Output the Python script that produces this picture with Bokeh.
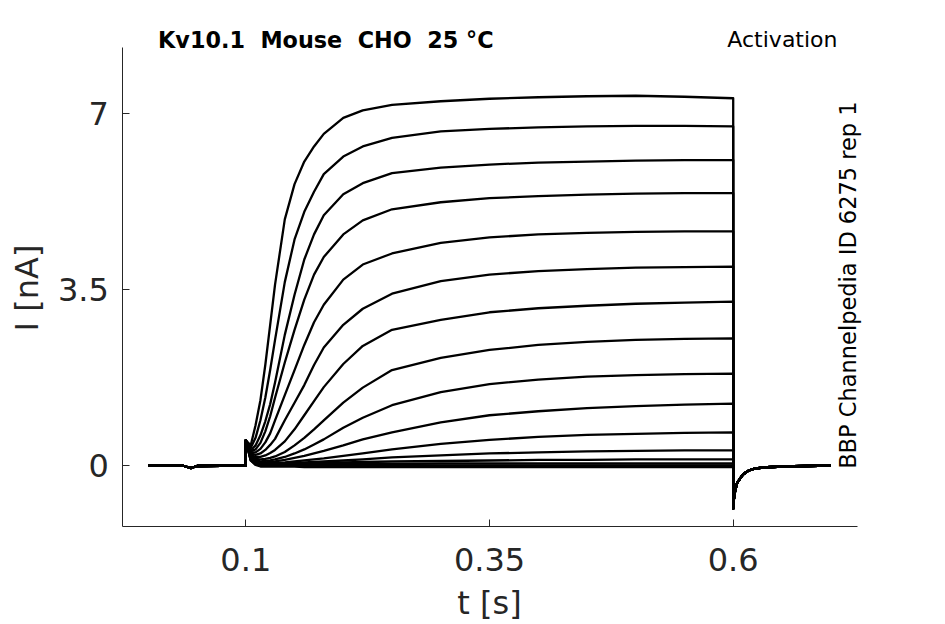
import math
from bokeh.plotting import figure
from bokeh.models import Range1d, FixedTicker, Label
from bokeh.embed import file_html
from bokeh.resources import INLINE

# ---------------- data ----------------
# holding period before the step (s, nA)
PRE_T = [0.0, 0.035, 0.04, 0.044, 0.05, 0.1]
PRE_I = [0.0, 0.0, -0.03, -0.05, -0.01, 0.0]

# test pulse sample times (s)
STEP_T = [0.1, 0.105, 0.11, 0.115, 0.12, 0.125, 0.13, 0.14, 0.15, 0.16, 0.17,
          0.18, 0.2, 0.22, 0.25, 0.3, 0.35, 0.4, 0.45, 0.5, 0.55, 0.6]

# currents during the test pulse (nA), one list per voltage step
I1 = [0.5, 0.4, 0.8, 1.3, 2.0, 2.8, 3.6, 4.9, 5.6, 6.05, 6.35, 6.6, 6.92, 7.07, 7.18, 7.25, 7.3, 7.33, 7.35, 7.36, 7.34, 7.31]
I2 = [0.5, 0.35, 0.55, 0.9, 1.35, 1.9, 2.5, 3.65, 4.5, 5.05, 5.45, 5.8, 6.15, 6.35, 6.52, 6.65, 6.7, 6.73, 6.75, 6.76, 6.76, 6.75]
I3 = [0.5, 0.3, 0.4, 0.6, 0.88, 1.22, 1.65, 2.6, 3.4, 4.1, 4.6, 4.98, 5.4, 5.62, 5.82, 5.93, 5.99, 6.03, 6.05, 6.07, 6.08, 6.08]
I4 = [0.5, 0.28, 0.32, 0.45, 0.68, 0.98, 1.35, 2.05, 2.7, 3.3, 3.8, 4.15, 4.6, 4.88, 5.1, 5.24, 5.32, 5.36, 5.39, 5.41, 5.42, 5.42]
I5 = [0.5, 0.26, 0.26, 0.33, 0.46, 0.64, 0.9, 1.4, 1.9, 2.4, 2.85, 3.2, 3.7, 4.0, 4.22, 4.43, 4.54, 4.6, 4.63, 4.65, 4.66, 4.66]
I6 = [0.5, 0.24, 0.21, 0.24, 0.31, 0.41, 0.53, 0.9, 1.25, 1.6, 2.0, 2.35, 2.8, 3.12, 3.42, 3.67, 3.8, 3.87, 3.91, 3.94, 3.95, 3.96]
I7 = [0.5, 0.22, 0.17, 0.17, 0.2, 0.25, 0.31, 0.48, 0.72, 1.0, 1.28, 1.56, 2.02, 2.38, 2.7, 2.9, 3.05, 3.13, 3.18, 3.22, 3.24, 3.26]
I8 = [0.5, 0.2, 0.13, 0.12, 0.13, 0.15, 0.18, 0.27, 0.4, 0.55, 0.72, 0.9, 1.25, 1.55, 1.9, 2.14, 2.3, 2.4, 2.46, 2.5, 2.52, 2.53]
I9 = [0.5, 0.18, 0.1, 0.08, 0.09, 0.1, 0.12, 0.17, 0.24, 0.32, 0.42, 0.52, 0.75, 0.95, 1.2, 1.46, 1.62, 1.71, 1.77, 1.8, 1.82, 1.83]
I10 = [0.5, 0.17, 0.08, 0.06, 0.06, 0.07, 0.08, 0.11, 0.15, 0.19, 0.24, 0.29, 0.4, 0.52, 0.66, 0.86, 1.0, 1.08, 1.14, 1.18, 1.21, 1.23]
I11 = [0.5, 0.15, 0.06, 0.04, 0.04, 0.04, 0.05, 0.06, 0.08, 0.1, 0.12, 0.14, 0.19, 0.24, 0.32, 0.43, 0.51, 0.57, 0.61, 0.63, 0.65, 0.66]
I12 = [0.5, 0.14, 0.05, 0.03, 0.03, 0.03, 0.03, 0.04, 0.05, 0.06, 0.07, 0.08, 0.1, 0.12, 0.16, 0.2, 0.24, 0.26, 0.28, 0.29, 0.3, 0.3]
I13 = [0.5, 0.13, 0.04, 0.02, 0.02, 0.02, 0.02, 0.03, 0.03, 0.04, 0.04, 0.05, 0.06, 0.07, 0.08, 0.09, 0.1, 0.11, 0.11, 0.12, 0.12, 0.12]
I14 = [0.5, 0.12, 0.03, 0.01, 0.01, 0.01, 0.01, 0.01, 0.02, 0.02, 0.02, 0.02, 0.03, 0.03, 0.03, 0.04, 0.04, 0.04, 0.04, 0.04, 0.04, 0.04]
I15 = [0.5, 0.1, 0.02, 0.0, 0.0, 0.0, 0.0, 0.0, 0.0, 0.0, 0.0, 0.0, 0.0, 0.0, 0.0, 0.0, 0.0, 0.0, 0.0, 0.0, 0.0, 0.0]
I16 = [0.5, 0.1, 0.01, -0.02, -0.02, -0.02, -0.02, -0.02, -0.02, -0.03, -0.03, -0.03, -0.03, -0.03, -0.03, -0.03, -0.03, -0.03, -0.03, -0.03, -0.03, -0.03]

# tail current after the pulse
TAIL_T = [0.6, 0.6005, 0.602, 0.604, 0.607, 0.61, 0.615, 0.62, 0.63, 0.65, 0.7]
TAIL_I = [-0.86, -0.7, -0.5, -0.35, -0.26, -0.18, -0.11, -0.07, -0.04, -0.02, 0.0]

X_TICKS = [0.1, 0.35, 0.6]
X_TICK_LABELS = ["0.1", "0.35", "0.6"]
Y_TICKS = [0, 3.5, 7]
Y_TICK_LABELS = ["0", "3.5", "7"]

TITLE = "Kv10.1\u00a0 Mouse\u00a0 CHO\u00a0 25 °C"
PROTOCOL = "Activation"
SOURCE = "BBP Channelpedia ID 6275 rep 1"
X_LABEL = "t [s]"
Y_LABEL = "I [nA]"

TRACES = [I1, I2, I3, I4, I5, I6, I7, I8, I9, I10, I11, I12, I13, I14, I15, I16]

# ---------------- figure ----------------
FONT = "DejaVu Sans"
INK = "#262626"

# axes box of the reference (data units)
X_LIM = (-0.0262, 0.7272)
Y_LIM = (-1.214, 8.326)

# the frame covers the whole canvas so that texts around the axes box are not clipped
p = figure(
    width=944, height=623,
    min_border_left=0, min_border_right=0, min_border_top=0, min_border_bottom=0,
    x_range=Range1d(-0.15164, 0.81676), y_range=Range1d(-3.1449, 9.2556),
    output_backend="svg", toolbar_location=None, title_location=None,
    background_fill_color="white", border_fill_color="white",
)
p.outline_line_color = None
p.xgrid.visible = False
p.ygrid.visible = False

xs = [PRE_T + STEP_T + TAIL_T for _ in TRACES]
ys = [PRE_I + tr + TAIL_I for tr in TRACES]
p.multi_line(xs, ys, line_color="black", line_width=2.3, line_join="round")

p.xaxis.fixed_location = Y_LIM[0]
p.xaxis.bounds = X_LIM
p.yaxis.fixed_location = X_LIM[0]
p.yaxis.bounds = Y_LIM

for ax, ticks, labels in ((p.xaxis[0], X_TICKS, X_TICK_LABELS), (p.yaxis[0], Y_TICKS, Y_TICK_LABELS)):
    ax.ticker = FixedTicker(ticks=ticks)
    ax.major_label_overrides = {t: l for t, l in zip(ticks, labels)}
    ax.minor_tick_line_color = None
    ax.major_tick_in = 7
    ax.major_tick_out = 0
    ax.axis_line_color = INK
    ax.major_tick_line_color = INK
    ax.axis_line_width = 1
    ax.major_label_text_font = FONT
    ax.major_label_text_font_size = "32px"
    ax.major_label_text_color = INK

p.xaxis.major_label_standoff = 22
p.yaxis.major_label_standoff = 14

labels = [
    Label(x=0.0100, y=8.463, text=TITLE, text_font=FONT, text_font_size="22.3px",
          text_font_style="bold", text_color="black", text_align="left",
          text_baseline="alphabetic"),
    Label(x=0.707, y=8.489, text=PROTOCOL, text_font=FONT, text_font_size="22px",
          text_color="black", text_align="right", text_baseline="alphabetic"),
    Label(x=0.7180, y=-0.066, text=SOURCE, text_font=FONT, text_font_size="22.5px",
          text_color="black", text_align="left", text_baseline="alphabetic",
          angle=math.pi / 2),
    Label(x=-0.1247, y=3.533, text=Y_LABEL, text_font=FONT, text_font_size="32px",
          text_color=INK, text_align="center", text_baseline="alphabetic",
          angle=math.pi / 2),
    Label(x=0.35, y=-2.727, text=X_LABEL, text_font=FONT, text_font_size="32px",
          text_color=INK, text_align="center", text_baseline="alphabetic"),
]
for lb in labels:
    p.add_layout(lb)

open("out.html", "w").write(file_html(p, INLINE))
